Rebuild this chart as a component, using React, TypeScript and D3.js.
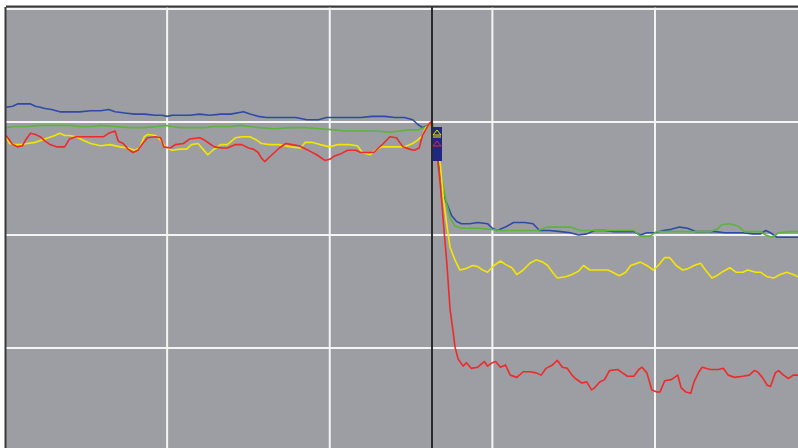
import React from 'react';
import * as d3 from 'd3';

// [time, level] pairs; cursor sits at t = 263
const blue: [number, number][] = [
  [1, 213], [5, 214], [8, 216], [13, 216], [16, 216], [19, 214], [22, 213], [25, 212], [29, 211], [34, 209],
  [40, 209], [46, 209], [53, 210], [59, 210], [64, 211], [68, 209], [74, 208], [80, 207], [86, 207], [93, 206],
  [97, 206], [100, 205], [103, 206], [108, 206], [114, 206], [120, 207], [126, 206], [133, 207], [139, 207], [147, 209],
  [151, 207], [156, 205], [161, 204], [169, 204], [179, 204], [186, 202], [193, 202], [198, 204], [206, 204], [212, 204],
  [219, 204], [226, 205], [234, 205], [240, 204], [246, 204], [251, 202], [254, 198], [257, 195], [260, 197], [263, 199],
  [265, 184], [268, 157], [270, 135], [273, 124], [275, 117], [278, 112], [281, 110], [286, 110], [291, 111], [297, 110],
  [300, 106], [303, 104], [308, 107], [313, 111], [320, 111], [325, 110], [329, 104], [335, 104], [342, 103], [348, 102],
  [353, 100], [358, 101], [363, 104], [369, 104], [375, 103], [382, 103], [387, 103], [391, 100], [395, 102], [400, 102],
  [405, 104], [410, 105], [415, 107], [420, 106], [425, 103], [431, 103], [437, 103], [443, 102], [449, 102], [454, 102],
  [460, 101], [465, 101], [468, 104], [471, 102], [475, 98], [480, 98], [488, 98],
];

const green: [number, number][] = [
  [1, 195], [6, 196], [13, 196], [22, 197], [31, 197], [40, 197], [46, 196], [53, 196], [59, 197], [68, 196],
  [77, 195], [86, 195], [94, 196], [99, 197], [103, 196], [108, 195], [117, 195], [123, 195], [129, 196], [139, 196],
  [145, 197], [151, 196], [157, 195], [166, 194], [176, 195], [185, 195], [194, 194], [203, 193], [209, 192], [219, 192],
  [228, 192], [237, 191], [243, 192], [249, 193], [254, 193], [258, 195], [261, 197], [263, 199], [266, 184], [269, 149],
  [272, 127], [274, 115], [277, 108], [281, 106], [286, 106], [292, 106], [299, 105], [305, 104], [313, 104], [320, 104],
  [328, 104], [334, 107], [342, 107], [348, 107], [354, 104], [364, 104], [372, 104], [379, 104], [387, 104], [391, 99],
  [397, 99], [401, 103], [406, 103], [415, 103], [425, 103], [434, 103], [438, 105], [441, 109], [446, 110], [451, 108],
  [455, 103], [465, 103], [468, 100], [472, 98], [476, 102], [483, 103], [488, 103],
];

const yellow: [number, number][] = [
  [1, 187], [3, 181], [6, 180], [10, 180], [14, 181], [19, 182], [23, 184], [27, 186], [31, 188], [34, 190],
  [37, 188], [40, 188], [44, 187], [48, 184], [53, 181], [59, 179], [65, 180], [71, 178], [76, 177], [80, 175],
  [83, 177], [86, 187], [88, 189], [93, 188], [96, 184], [99, 178], [103, 175], [108, 176], [112, 176], [115, 180],
  [119, 181], [122, 176], [125, 171], [128, 175], [133, 180], [137, 180], [142, 186], [146, 187], [151, 187], [155, 184],
  [158, 181], [163, 180], [169, 180], [176, 178], [182, 177], [185, 182], [189, 182], [194, 180], [200, 178], [205, 180],
  [212, 180], [217, 179], [220, 173], [225, 171], [228, 175], [232, 178], [240, 178], [246, 178], [251, 181], [254, 184],
  [257, 188], [259, 195], [262, 199], [265, 188], [268, 162], [270, 131], [272, 109], [274, 89], [277, 78], [280, 69],
  [283, 70], [288, 73], [291, 72], [294, 69], [297, 67], [301, 73], [305, 77], [308, 74], [312, 71], [315, 65],
  [319, 69], [323, 75], [327, 78], [331, 76], [334, 73], [337, 67], [340, 62], [345, 63], [349, 65], [353, 68],
  [356, 73], [360, 69], [365, 69], [371, 69], [374, 67], [378, 64], [382, 67], [385, 73], [391, 76], [395, 73],
  [399, 69], [402, 73], [406, 80], [409, 80], [413, 73], [417, 69], [420, 70], [424, 73], [428, 75], [431, 69],
  [435, 62], [438, 64], [441, 67], [446, 71], [450, 67], [454, 67], [457, 69], [462, 67], [465, 67], [469, 63],
  [473, 62], [477, 65], [481, 67], [485, 65], [488, 63],
];

const red: [number, number][] = [
  [1, 188], [3, 184], [5, 180], [8, 178], [11, 179], [13, 184], [16, 190], [19, 189], [22, 187], [25, 183],
  [28, 180], [32, 178], [37, 178], [40, 185], [44, 187], [50, 187], [56, 187], [61, 187], [64, 190], [68, 192],
  [70, 183], [73, 181], [76, 176], [79, 173], [82, 175], [85, 181], [88, 186], [93, 187], [96, 186], [98, 178],
  [102, 177], [105, 180], [110, 181], [114, 185], [120, 186], [123, 184], [126, 181], [129, 178], [134, 177], [137, 177],
  [142, 180], [146, 180], [150, 177], [153, 176], [156, 173], [158, 168], [160, 165], [163, 169], [166, 173], [169, 177],
  [173, 181], [177, 180], [181, 179], [184, 177], [188, 174], [192, 171], [194, 169], [197, 166], [200, 167], [203, 170],
  [207, 172], [211, 175], [216, 175], [219, 173], [224, 173], [227, 173], [230, 177], [233, 181], [237, 187], [241, 186],
  [245, 178], [249, 176], [252, 175], [255, 177], [257, 188], [260, 196], [262, 200], [264, 188], [266, 171], [268, 144],
  [270, 109], [272, 75], [274, 34], [276, 13], [277, 1], [279, -10], [282, -16], [284, -13], [287, -18], [291, -17],
  [295, -12], [297, -16], [300, -13], [302, -12], [305, -17], [308, -15], [311, -24], [315, -26], [319, -21], [323, -21],
  [327, -22], [330, -24], [333, -18], [337, -15], [340, -11], [343, -17], [346, -18], [349, -24], [351, -27], [355, -31],
  [358, -30], [361, -37], [363, -35], [366, -30], [369, -28], [372, -20], [377, -19], [380, -22], [383, -25], [387, -25],
  [390, -19], [392, -17], [395, -22], [398, -37], [401, -39], [403, -39], [406, -29], [410, -28], [414, -24], [416, -35],
  [419, -39], [422, -40], [424, -30], [427, -21], [429, -17], [434, -19], [439, -19], [442, -18], [445, -24], [449, -26],
  [454, -25], [458, -24], [461, -20], [463, -21], [466, -26], [469, -33], [471, -34], [474, -22], [476, -20], [479, -24],
  [482, -27], [485, -24], [488, -24],
];

const xGrid = [100, 200, 300, 400];
const yGrid = [0, 100, 200, 300];
const cursorT = 263;

const series = [
  { name: 'blue', data: blue, color: '#2d4ba6' },
  { name: 'green', data: green, color: '#5cb43c' },
  { name: 'yellow', data: yellow, color: '#f4e600' },
  { name: 'red', data: red, color: '#ee2a2a' },
];

const W = 798;
const H = 448;

export default function App() {
  const x = d3.scaleLinear().domain([0, 400]).range([4.5, 655]);
  const y = d3.scaleLinear().domain([0, 300]).range([348, 9]);

  const line = d3.line<[number, number]>()
    .x(d => x(d[0]))
    .y(d => y(d[1]));

  const left = 6;
  const top = 7;
  const cx = Math.round(x(cursorT));

  return (
    <svg width={W} height={H} style={{ position: 'fixed', left: 0, top: 0, background: '#fff' }}>
      <defs>
        <clipPath id="plot">
          <rect x={left} y={top} width={W - left} height={H - top} />
        </clipPath>
      </defs>
      <rect x={left} y={top} width={W - left} height={H - top} fill="#9d9ea3" />

      <g clipPath="url(#plot)">
        {xGrid.map(t => (
          <line key={'x' + t} x1={x(t)} x2={x(t)} y1={top} y2={H} stroke="#f4f4f4" strokeWidth={2} />
        ))}
        {yGrid.map(v => (
          <line key={'y' + v} x1={left} x2={W} y1={y(v)} y2={y(v)} stroke="#f4f4f4" strokeWidth={2} />
        ))}

        {series.map(s => (
          <path key={s.name} d={line(s.data) || ''} fill="none" stroke={s.color} strokeWidth={1.6} strokeLinejoin="round" />
        ))}

        {/* cursor marker */}
        <rect x={cx - 1} y={127} width={11} height={34} fill="#1f2780" />
        <path d={`M${cx + 1},${135} L${cx + 5},${130} L${cx + 9},${135} Z`} fill="none" stroke="#f4e600" strokeWidth={1} />
        <line x1={cx + 1} x2={cx + 9} y1={137} y2={137} stroke="#f4e600" strokeWidth={1} />
        <path d={`M${cx + 1},${146} L${cx + 5},${141} L${cx + 9},${146} Z`} fill="none" stroke="#ee2a2a" strokeWidth={1} />
        <line x1={cx} x2={cx} y1={top} y2={H} stroke="#2a2a2a" strokeWidth={2} />
      </g>

      <line x1={left - 0.5} x2={left - 0.5} y1={top} y2={H} stroke="#3a3a3a" strokeWidth={2} />
      <line x1={left} x2={W} y1={top - 0.5} y2={top - 0.5} stroke="#3a3a3a" strokeWidth={2} />
    </svg>
  );
}
